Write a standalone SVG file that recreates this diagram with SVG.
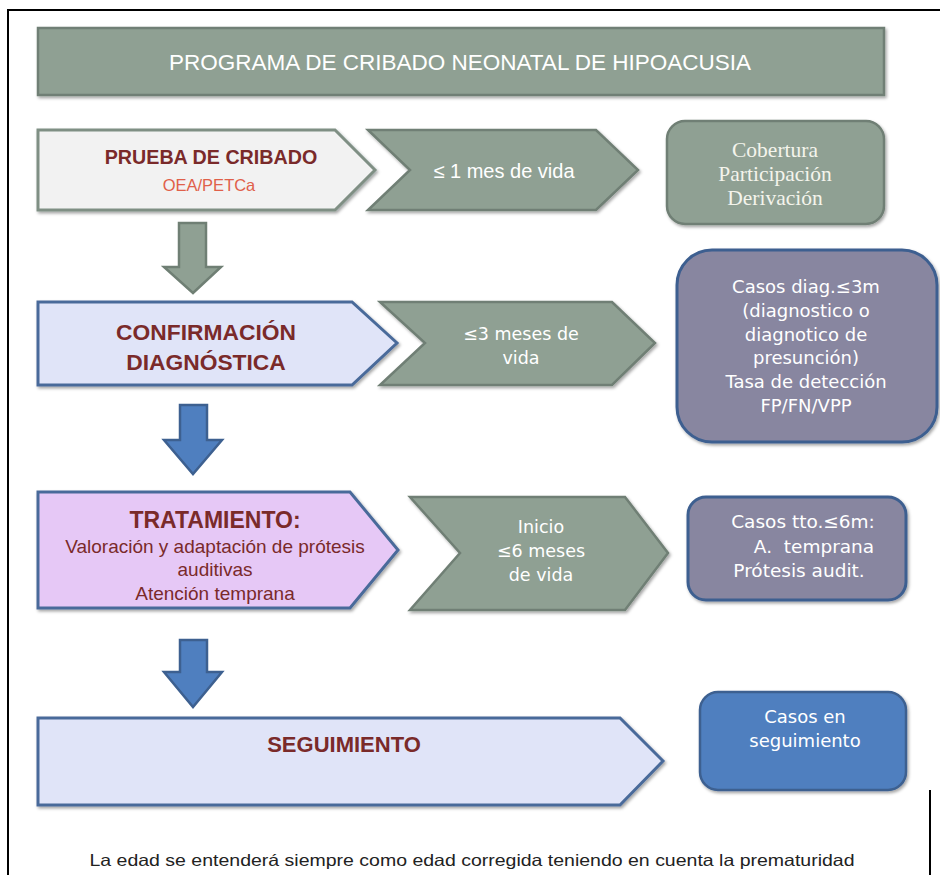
<svg xmlns="http://www.w3.org/2000/svg" width="940" height="875" viewBox="0 0 940 875">
<defs>
<style>
.gg{fill:#8fa093;stroke:#6f7f74;stroke-width:2.5}
.p1{fill:#f2f2f2;stroke:#7f8f84;stroke-width:3}
.pb{fill:#e0e4f8;stroke:#4a6a9a;stroke-width:3}
.pl{fill:#e6c8f6;stroke:#4a6a9a;stroke-width:3}
.pu{fill:#8886a0;stroke:#3d5f90;stroke-width:3}
.bl{fill:#4f7fbf;stroke:#3d6090;stroke-width:2.5}
.sh{filter:url(#ds)}
text{font-family:"Liberation Sans",Arial,sans-serif;text-anchor:middle}
.h{font-weight:bold;fill:#7a2a2a}
.w{fill:#ffffff}
.sf{font-family:"Liberation Serif","Times New Roman",serif;fill:#f4f4ec}
.gq{font-family:"DejaVu Sans","Noto Sans",sans-serif;fill:#ffffff}
.d{fill:#7a2a2a}
</style>
<filter id="ds" x="-5%" y="-5%" width="115%" height="125%">
<feDropShadow dx="1.5" dy="2" stdDeviation="1.5" flood-color="#000" flood-opacity="0.35"/>
</filter>
</defs>
<rect width="940" height="875" fill="#ffffff"/>
<g id="frame" fill="none" stroke="#000" stroke-width="2">
<path d="M8,875 V10 H940"/>
<path d="M930,790 V875"/>
</g>
<g id="title">
<rect class="gg sh" x="38" y="28" width="846" height="67"/>
<text class="w" x="460" y="70" font-size="22.5">PROGRAMA DE CRIBADO NEONATAL DE HIPOACUSIA</text>
</g>
<g id="connectors">
<path class="gg" d="M179,223 H206 V267 H221 L193,293 L164,267 H179 Z"/>
<path class="bl" d="M180,405 H207 V440 H222 L193,474 L164,440 H180 Z"/>
<path class="bl" d="M180,640 H207 V672 H222 L193,707 L164,672 H180 Z"/>
</g>
<g id="cribado">
<polygon class="p1 sh" points="38,130 335,130 375,170 335,210 38,210"/>
<text class="h" x="211" y="164" font-size="19.7">PRUEBA DE CRIBADO</text>
<text x="209" y="191" font-size="16.5" fill="#e0604a">OEA/PETCa</text>
</g>
<g id="plazo1">
<polygon class="gg sh" points="368,130 596,130 638,170 596,210 368,210 410,170"/>
<text class="w" x="504" y="178" font-size="20">≤ 1 mes de vida</text>
</g>
<g id="ind1">
<rect class="gg sh" x="667" y="121" width="217" height="103" rx="18"/>
<text class="sf" x="775" y="157" font-size="21.5">Cobertura</text>
<text class="sf" x="775" y="181" font-size="21.5">Participación</text>
<text class="sf" x="775" y="205" font-size="21.5">Derivación</text>
</g>
<g id="confirmacion">
<polygon class="pb sh" points="38,302 352,302 397,343 352,385 38,385"/>
<text class="h" x="206" y="340" font-size="22.8">CONFIRMACIÓN</text>
<text class="h" x="206" y="370" font-size="22.8">DIAGNÓSTICA</text>
</g>
<g id="plazo2">
<polygon class="gg sh" points="380,302 612,302 655,343 612,385 380,385 425,343"/>
<text class="gq" x="521" y="340" font-size="17.5">≤3 meses de</text>
<text class="gq" x="521" y="364" font-size="17.5">vida</text>
</g>
<g id="ind2">
<rect class="pu sh" x="677" y="250" width="260" height="192" rx="35"/>
<text class="gq" x="806" y="293" font-size="18">Casos diag.≤3m</text>
<text class="gq" x="806" y="317" font-size="18">(diagnostico o</text>
<text class="gq" x="806" y="341" font-size="18">diagnotico de</text>
<text class="gq" x="806" y="364" font-size="18">presunción)</text>
<text class="gq" x="806" y="388" font-size="18">Tasa de detección</text>
<text class="gq" x="806" y="412" font-size="18">FP/FN/VPP</text>
</g>
<g id="tratamiento">
<polygon class="pl sh" points="38,492 350,492 398,550 350,608 38,608"/>
<text class="h" x="215" y="528" font-size="23">TRATAMIENTO:</text>
<text class="d" x="215" y="553" font-size="19">Valoración y adaptación de prótesis</text>
<text class="d" x="215" y="576" font-size="19">auditivas</text>
<text class="d" x="215" y="600" font-size="19">Atención temprana</text>
</g>
<g id="plazo3">
<polygon class="gg sh" points="410,497 625,497 668,553 625,610 410,610 460,553"/>
<text class="gq" x="541" y="533" font-size="17.5">Inicio</text>
<text class="gq" x="541" y="557" font-size="17.5">≤6 meses</text>
<text class="gq" x="541" y="581" font-size="17.5">de vida</text>
</g>
<g id="ind3">
<rect class="pu sh" x="688" y="497" width="218" height="103" rx="18"/>
<text class="gq" x="803" y="528" font-size="18.5">Casos tto.≤6m:</text>
<text class="gq" x="814" y="553" font-size="18.5" xml:space="preserve">A.  temprana</text>
<text class="gq" x="799" y="577" font-size="18.5">Prótesis audit.</text>
</g>
<g id="seguimiento">
<polygon class="pb sh" points="38,718 620,718 663,761 620,805 38,805"/>
<text class="h" x="344" y="752" font-size="22">SEGUIMIENTO</text>
</g>
<g id="ind4">
<rect class="bl sh" x="700" y="692" width="206" height="98" rx="18"/>
<text class="gq" x="805" y="723" font-size="18">Casos en</text>
<text class="gq" x="805" y="747" font-size="18">seguimiento</text>
</g>
<g id="nota">
<text x="472" y="866" font-size="16.5" fill="#222" textLength="765" lengthAdjust="spacingAndGlyphs">La edad se entenderá siempre como edad corregida teniendo en cuenta la prematuridad</text>
</g>
</svg>
